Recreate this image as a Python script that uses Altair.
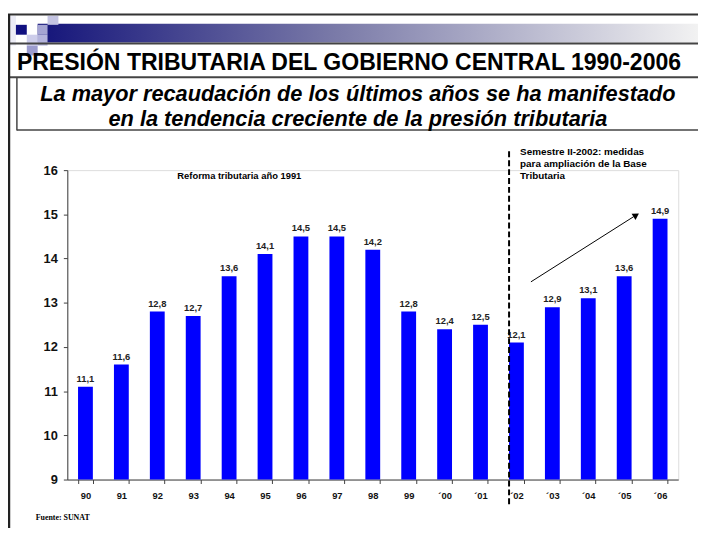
import altair as alt
import pandas as pd

# ---------------- data ----------------
years = ["90", "91", "92", "93", "94", "95", "96", "97", "98", "99",
         "´00", "´01", "´02", "´03", "´04", "´05", "´06"]
presion = [11.1, 11.6, 12.8, 12.7, 13.6, 14.1, 14.5, 14.5, 14.2, 12.8,
           12.4, 12.5, 12.1, 12.9, 13.1, 13.6, 14.9]
y_ticks = [9, 10, 11, 12, 13, 14, 15, 16]

title_text = "PRESIÓN TRIBUTARIA DEL GOBIERNO CENTRAL 1990-2006"
subtitle_lines = ["La mayor recaudación de los últimos años se ha manifestado",
                  "en la tendencia creciente de la presión tributaria"]
note_reforma = "Reforma tributaria año 1991"
note_semestre = ["Semestre II-2002: medidas", "para ampliación de la Base", "Tributaria"]
break_year = "´02"
source_text = "Fuente: SUNAT"

# ---------------- layout ----------------
W, H = 618, 313
PL, PT, PR, PB = 60, 161, 20, 46
OX, OY = PL + 8, PT + 8  # page position of plot origin


def px(x):
    return x - OX


def py(y):
    return y - OY


df = pd.DataFrame({"year": years, "value": presion})
one = pd.DataFrame({"k": [0]})

FONT = "Liberation Sans"

xenc = alt.X(
    "year:N", sort=years, title=None,
    scale=alt.Scale(paddingInner=0.59, paddingOuter=0.3),
    axis=alt.Axis(labelAngle=0, labelFont=FONT, labelFontSize=9.5, labelFontWeight="bold",
                  labelColor="#111", tickBand="extent", tickSize=4, tickColor="#404040",
                  domainColor="#404040", labelPadding=7, grid=False),
)
yenc = alt.Y(
    "value:Q", title=None,
    scale=alt.Scale(domain=[9, 16], nice=False, zero=False),
    axis=alt.Axis(values=y_ticks, labelFont=FONT, labelFontSize=13, labelFontWeight="bold",
                  labelColor="#111", tickSize=4, tickColor="#404040", domainColor="#404040",
                  labelPadding=6, grid=False),
)

bars = alt.Chart(df).mark_bar(color="#0000FF", size=15).encode(
    x=xenc, y=yenc, y2=alt.datum(9)
)

labels = alt.Chart(df).transform_calculate(
    lbl="replace(format(datum.value, '.1f'), '.', ',')"
).mark_text(font=FONT, fontSize=9.5, fontWeight="bold", color="#222", baseline="bottom", dy=-3).encode(
    x=alt.X("year:N", sort=years), y=alt.Y("value:Q"), text="lbl:N"
)

dash = alt.Chart(pd.DataFrame({"year": [break_year]})).mark_rule(
    color="black", strokeWidth=2, strokeDash=[6, 3]
).encode(
    x=alt.X("year:N", sort=years, bandPosition=0),
    y=alt.value(py(150)), y2=alt.value(py(508)),
)


def hline(y, x1, x2, color="#333", w=2):
    return alt.Chart(one).mark_rule(color=color, strokeWidth=w).encode(
        x=alt.value(px(x1)), x2=alt.value(px(x2)), y=alt.value(py(y)))


def vline(x, y1, y2, color="#333", w=2):
    return alt.Chart(one).mark_rule(color=color, strokeWidth=w).encode(
        x=alt.value(px(x)), y=alt.value(py(y1)), y2=alt.value(py(y2)))


def box(x1, y1, x2, y2, fill):
    return alt.Chart(one).mark_rect(fill=fill).encode(
        x=alt.value(px(x1)), x2=alt.value(px(x2)), y=alt.value(py(y1)), y2=alt.value(py(y2)))


def label(txt, x, y, size, align="left", weight="bold", style="normal", font=FONT, color="black"):
    return alt.Chart(one).mark_text(
        text=txt, font=font, fontSize=size, fontWeight=weight, fontStyle=style,
        align=align, baseline="alphabetic", color=color
    ).encode(x=alt.value(px(x)), y=alt.value(py(y)))


gradient = alt.Chart(one).mark_rect(
    fill=alt.LinearGradient(
        gradient="linear", x1=0, x2=1, y1=0, y2=0,
        stops=[alt.GradientStop(offset=0, color="#14147a"),
               alt.GradientStop(offset=0.45, color="#7a7aa8"),
               alt.GradientStop(offset=1, color="#f2f2f2")])
).encode(x=alt.value(px(38)), x2=alt.value(px(706)), y=alt.value(py(21)), y2=alt.value(py(40)))

decor = [
    box(9, 13, 16, 43, "#ececf6"),
    gradient,
    box(48, 13, 59, 22, "#c4c4e2"),
    box(16, 22, 27, 32, "#101080"),
    box(38, 22, 48, 32, "#a4a4d2"),
    box(27, 32, 38, 43, "#cdcdea"),
    box(38, 32, 48, 43, "#b4b4dc"),
    box(27, 43, 38, 53, "#9c9cce"),
    hline(11.5, 8, 706),
    hline(41, 8, 706, color="#444"),
    hline(75, 8, 706, color="#444"),
    vline(17, 75, 129, color="#444", w=1.5),
    hline(128.5, 17, 706, color="#444", w=1.5),
    vline(9, 11, 537, color="#222", w=2.5),
]

texts = [
    label(title_text, 17, 68, 23.3),
    label(subtitle_lines[0], 362, 99, 22, align="center", style="italic"),
    label(subtitle_lines[1], 362, 124, 22, align="center", style="italic"),
    label(note_reforma, 242, 178, 9.5, align="center"),
    label(note_semestre[0], 526, 154, 10),
    label(note_semestre[1], 526, 166, 10),
    label(note_semestre[2], 526, 178, 10),
    label(source_text, 36, 523, 8, font="Liberation Serif"),
]

arrow_line = alt.Chart(one).mark_rule(color="black", strokeWidth=1).encode(
    x=alt.value(px(537)), y=alt.value(py(282)), x2=alt.value(px(641)), y2=alt.value(py(216)))
arrow_head = alt.Chart(one).mark_point(
    shape="triangle-right", filled=True, color="black", opacity=1, size=55, angle=327.5
).encode(x=alt.value(px(643.5)), y=alt.value(py(214.5)))

chart = alt.layer(
    *decor, bars, labels, dash, arrow_line, arrow_head, *texts
).properties(
    width=W, height=H,
    autosize=alt.AutoSizeParams(type="none"),
    padding={"left": PL, "top": PT, "right": PR, "bottom": PB},
).configure_view(stroke=None).configure(background="white")

chart.save("out.html", embed_options={"renderer": "svg", "actions": False})
